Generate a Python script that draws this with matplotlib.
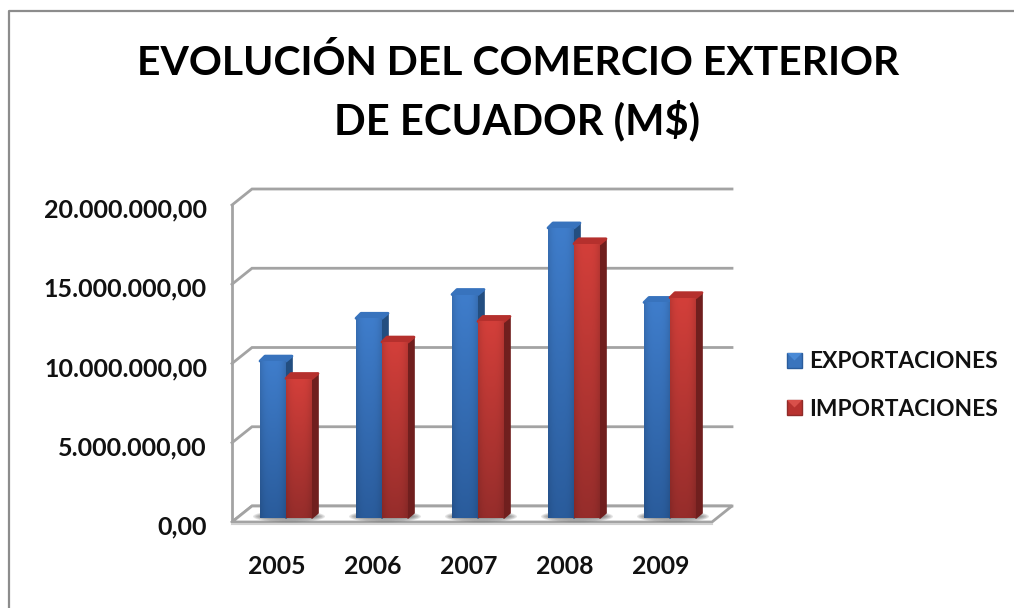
import numpy as np
import matplotlib
matplotlib.use('Agg')
import matplotlib.pyplot as plt
from matplotlib.lines import Line2D
from matplotlib.patches import Polygon, Ellipse
from matplotlib.transforms import ScaledTranslation

# datos
years = ['2005', '2006', '2007', '2008', '2009']
exportaciones = [9900000, 12600000, 14100000, 18300000, 13600000]
importaciones = [8800000, 11100000, 12400000, 17300000, 13900000]
yticks = [0, 5000000, 10000000, 15000000, 20000000]
ytick_labels = ['0,00', '5.000.000,00', '10.000.000,00', '15.000.000,00', '20.000.000,00']
title_lines = ['EVOLUCIÓN DEL COMERCIO EXTERIOR', 'DE ECUADOR (M$)']

W, H = 1014, 608
GRID = '#a3a3a3'
plt.rcParams['font.family'] = ['Lato', 'DejaVu Sans']

fig = plt.figure(figsize=(W / 100, H / 100), dpi=100)
# plano frontal del grafico en pixeles
left, right, bottom, top = 232, 712, 522, 205
ax = fig.add_axes([left / W, 1 - bottom / H, (right - left) / W, (bottom - top) / H])
ax.set_xlim(-0.5, 4.5)
ax.set_ylim(0, 20000000)
px_x = 5 / (right - left)
px_y = 20000000 / (bottom - top)
ax.patch.set_visible(False)
for s in ax.spines.values():
    s.set_visible(False)

# marco exterior
fig.add_artist(Line2D([9 / W, 9 / W, 1], [0, 1 - 11 / H, 1 - 11 / H], color='#8c8c8c', lw=1.6))

# paredes y suelo en perspectiva
DX, DY = 20 * px_x, 16 * px_y
for v in yticks:
    ax.plot([-0.5, -0.5 + DX, 4.5 + DX], [v, v + DY, v + DY], color=GRID, lw=2,
            clip_on=False, zorder=1, solid_joinstyle='miter')
ax.plot([-0.5, -0.5], [0, 20000000], color=GRID, lw=2, clip_on=False, zorder=1)
floor = Polygon([(-0.5, 0), (4.5, 0), (4.5 + DX, DY), (-0.5 + DX, DY)], closed=True,
                facecolor='white', edgecolor=GRID, lw=2, clip_on=False, zorder=1)
ax.add_patch(floor)
ax.plot([-0.5, 4.5], [-1.5 * px_y, -1.5 * px_y], color='#d0d0d0', lw=1.5, clip_on=False, zorder=1)

# barras: desplazadas dentro del suelo
SX, SY = 6 * px_x, 4 * px_y
BW = 26 * px_x
BDX, BDY = 6 * px_x, 5 * px_y


def shade(c_top, c_bot):
    rows = np.linspace(0, 1, 64)[:, None]
    cols = np.linspace(0, 1, 32)[None, :]
    edge = 1 - 0.12 * np.abs(2 * cols - 1) ** 3
    img = np.zeros((64, 32, 3))
    for k in range(3):
        img[:, :, k] = (c_top[k] + (c_bot[k] - c_top[k]) * rows) * edge
    return img


def rgb(h):
    return np.array(matplotlib.colors.to_rgb(h))


def draw_bar(x0, v, c_top, c_bot, c_side, c_cap, z):
    y0 = SY
    y1 = SY + v
    ax.add_patch(Polygon([(x0 + BW, y0), (x0 + BW + BDX, y0 + BDY), (x0 + BW + BDX, y1 + BDY), (x0 + BW, y1)],
                         closed=True, facecolor=c_side, edgecolor=c_side, lw=1.2, joinstyle='round',
                         clip_on=False, zorder=z))
    ax.add_patch(Polygon([(x0, y1), (x0 + BW, y1), (x0 + BW + BDX, y1 + BDY), (x0 + 5 * px_x, y1 + BDY)],
                         closed=True, facecolor=c_cap, edgecolor=c_cap, lw=2, joinstyle='round',
                         clip_on=False, zorder=z))
    # cara frontal con degradado, recortada a la barra
    bar = ax.bar(x0, v, width=BW, bottom=y0, align='edge', color=c_top, lw=0, zorder=z + 0.1, clip_on=False)[0]
    im = ax.imshow(shade(rgb(c_top), rgb(c_bot)), extent=(x0, x0 + BW, y0, y1), aspect='auto',
                   origin='upper', zorder=z + 0.2, clip_on=True, interpolation='bilinear')
    im.set_clip_path(bar)


for i in range(len(years)):
    xc = i + SX
    # sombra suave bajo cada grupo
    for k in range(6):
        ax.add_patch(Ellipse((xc + 3 * px_x, SY + 1.5 * px_y), (72 - 3 * k) * px_x, (12 - 1.5 * k) * px_y,
                             facecolor='#606060', edgecolor='none', alpha=0.16, zorder=2, clip_on=False))
    draw_bar(xc - BW, exportaciones[i], '#3f7dcb', '#2a5c9c', '#234e80', '#3873bd', 3 + i)
    draw_bar(xc, importaciones[i], '#d33f3a', '#962d2b', '#701f1e', '#b5302d', 3.4 + i)

ax.set_xlim(-0.5, 4.5)
ax.set_ylim(0, 20000000)

ax.set_xticks(range(len(years)))
ax.set_xticklabels(years, fontsize=17.8, fontweight='bold', color='#111111')
ax.set_yticks(yticks)
ax.set_yticklabels(ytick_labels, fontsize=18, fontweight='bold', color='#111111')
ax.tick_params(axis='both', length=0)
ax.tick_params(axis='x', pad=23.5)
ax.tick_params(axis='y', pad=18)
for t in ax.get_xticklabels():
    t.set_transform(t.get_transform() + ScaledTranslation(-3 / 100, 0, fig.dpi_scale_trans))
for t in ax.get_yticklabels():
    t.set_transform(t.get_transform() + ScaledTranslation(0, -3 / 100, fig.dpi_scale_trans))

# dos lineas de titulo para fijar su separacion
fig.text(518 / W, 1 - 63 / H, title_lines[0], ha='center', va='center', fontsize=29.4, fontweight='bold', color='black')
fig.text(517 / W, 1 - 120 / H, title_lines[1], ha='center', va='center', fontsize=30, fontweight='bold', color='black')

# leyenda
for name, yc, c1, c2, c3 in [('EXPORTACIONES', 360, '#4a8ad6', '#2a5c9c', '#3a74bd'),
                             ('IMPORTACIONES', 407, '#d9504a', '#8f2b29', '#b8322f')]:
    x0, x1, y0, y1 = 787 / W, 802 / W, 1 - (yc + 8) / H, 1 - (yc - 7) / H
    xm, ym = (x0 + x1) / 2, (y0 + y1) / 2
    fig.add_artist(Polygon([(x0, y0), (x1, y0), (x1, y1), (x0, y1)], closed=True, transform=fig.transFigure,
                           facecolor=c3, edgecolor=c2, lw=1))
    fig.add_artist(Polygon([(x0, y1), (x1, y1), (xm, ym)], closed=True, transform=fig.transFigure,
                           facecolor=c1, edgecolor='none'))
    fig.text(809 / W, 1 - (yc + 2) / H, name, ha='left', va='center', fontsize=16.4, fontweight='bold', color='#111111')

fig.savefig('out.png', dpi=100)
